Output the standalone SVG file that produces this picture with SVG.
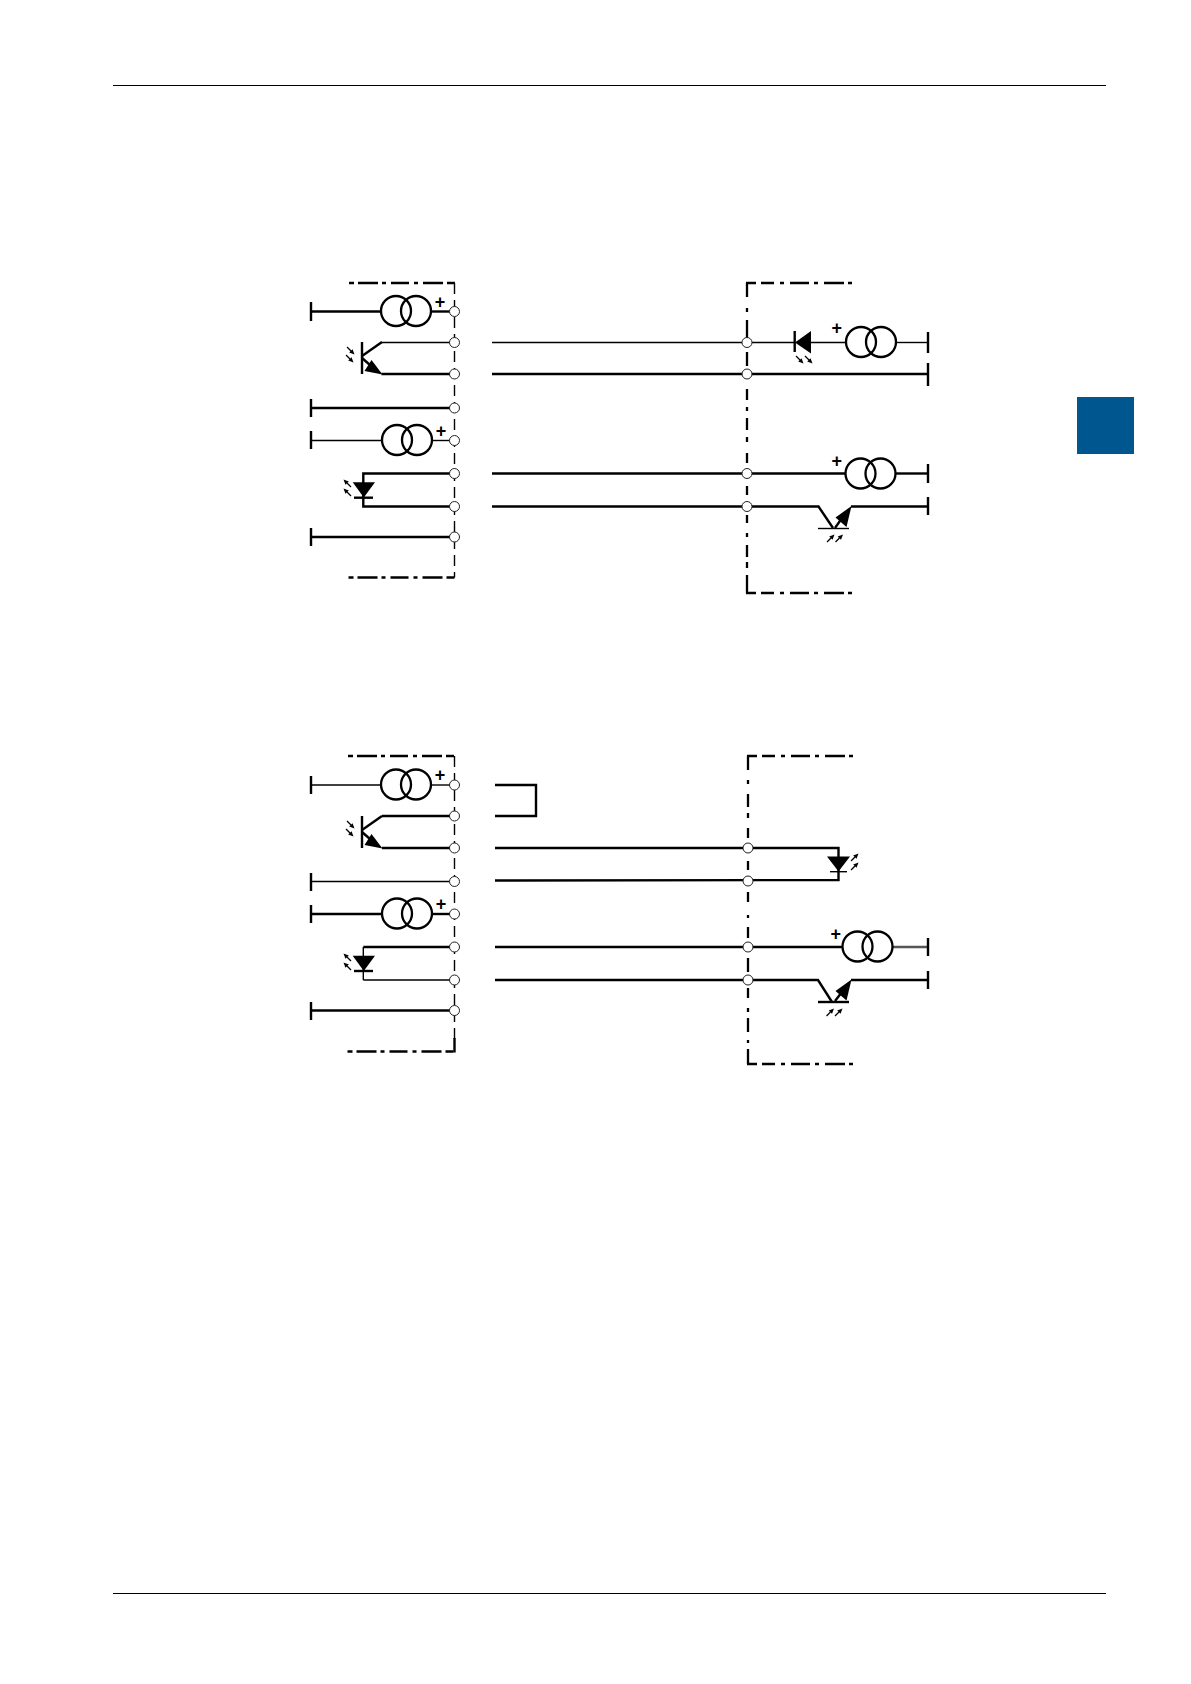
<svg xmlns="http://www.w3.org/2000/svg" width="1191" height="1684" viewBox="0 0 1191 1684">
<style>
line,polyline{fill:none;stroke:#000;stroke-linecap:butt}
.k{stroke-width:2.4}
.t{stroke-width:1.4}
.c{fill:none;stroke:#000;stroke-width:2.3}
.term{fill:#fff;stroke:#222;stroke-width:1}
.v{stroke-width:1.4;stroke-dasharray:11 6}
.dd{fill:none;stroke:#000;stroke-width:2.3}
.plus{font-family:"Liberation Sans",Arial,sans-serif;font-weight:bold;font-size:18px;text-anchor:middle}
</style>
<defs>
<g id="ray"><line x1="0" y1="0" x2="4" y2="4" stroke-width="1.2"/><polygon points="7.5,7.5 2.2,5.5 5.5,2.2" fill="#000"/></g>
<g id="src"><circle class="c" cx="-10" cy="0" r="15"/><circle class="c" cx="10" cy="0" r="15"/></g>
<circle id="tm" class="term" r="5"/>
<path id="hl" class="dd" d="M0 0H5M9 0H29M33 0H37M42 0H60M65 0H69M74 0H94M98 0H106"/>
<path id="hr" class="dd" d="M0 0H10M15 0H28M34 0H38M44 0H63M68 0H72M78 0H98M102 0H106"/>
</defs>
<rect id="tab" x="1077" y="397" width="57" height="57" fill="#00578f"/>
<line x1="113" y1="85.5" x2="1106" y2="85.5" stroke-width="1"/>
<line x1="113" y1="1593.5" x2="1106" y2="1593.5" stroke-width="1"/>

<g id="connectors">
<line class="k" x1="311" y1="311.5" x2="381" y2="311.5"/><line class="k" x1="431" y1="311.5" x2="450" y2="311.5"/>
<line class="t" x1="381.5" y1="342.5" x2="450" y2="342.5"/>
<line class="k" x1="381.5" y1="374" x2="450" y2="374"/>
<line class="k" x1="311" y1="408" x2="450" y2="408"/>
<line class="t" x1="311" y1="440.5" x2="382" y2="440.5"/><line class="t" x1="432" y1="440.5" x2="450" y2="440.5"/>
<polyline class="k" points="450,473.5 363.3,473.5 363.3,506.5 450,506.5"/>
<line class="k" x1="311" y1="537" x2="450" y2="537"/>

<line class="t" x1="492" y1="342.5" x2="795" y2="342.5"/>
<line class="t" x1="811" y1="342.5" x2="846" y2="342.5"/><line class="t" x1="896" y1="342.5" x2="928" y2="342.5"/>
<line class="k" x1="492" y1="374" x2="928" y2="374"/>
<line class="k" x1="492" y1="473.5" x2="845" y2="473.5"/><line class="k" x1="896" y1="473.5" x2="928" y2="473.5"/>
<polyline class="k" points="492,506.5 818.5,506.5 833,528"/>
<line class="k" x1="851" y1="506.5" x2="928" y2="506.5"/>

<line class="t" x1="311" y1="785" x2="381" y2="785"/><line class="t" x1="431" y1="785" x2="450" y2="785"/>
<line class="k" x1="382" y1="816" x2="450" y2="816"/>
<line class="k" x1="382" y1="848" x2="450" y2="848"/>
<line class="t" x1="311" y1="881.5" x2="450" y2="881.5"/>
<line class="k" x1="311" y1="914" x2="382" y2="914"/><line class="k" x1="432" y1="914" x2="450" y2="914"/>
<line class="k" x1="363.3" y1="947" x2="450" y2="947"/>
<line class="t" x1="363.3" y1="980" x2="450" y2="980"/>
<line class="t" x1="363.3" y1="947" x2="363.3" y2="980"/>
<line class="k" x1="311" y1="1010.5" x2="450" y2="1010.5"/>

<polyline class="k" points="495,785 536,785 536,816 495,816"/>
<polyline class="k" points="495,848 838.5,848 838.5,880 495,880.5"/>
<line class="k" x1="495" y1="947" x2="842" y2="947"/>
<line x1="892" y1="947" x2="928" y2="947" style="stroke:#555;stroke-width:2.4"/>
<polyline class="k" points="495,980 818,980 832,1002"/>
<line class="k" x1="851" y1="980" x2="928" y2="980"/>
</g>

<g id="frame-left-top"><line class="v" x1="454.5" y1="283" x2="454.5" y2="577.5"/><use href="#hl" x="349" y="283"/><use href="#hl" x="348.5" y="577.5"/></g>
<g id="frame-right-top"><use href="#hr" x="746" y="283"/><use href="#hr" x="746" y="593"/>
<path class="dd" d="M747 283V297M747 308V312M747 320V338M747 352V366M747 389V400M747 407V411M747 418V430M747 437V442M747 453V463M747 486V495M747 515V523M747 533V537M747 545V557M747 562V568M747 575V593"/></g>
<g id="frame-left-bottom"><line class="v" x1="454.5" y1="756" x2="454.5" y2="1040"/><line class="k" x1="454.5" y1="1038" x2="454.5" y2="1052.5"/><use href="#hl" x="348" y="756"/><use href="#hl" x="347.5" y="1051.5"/></g>
<g id="frame-right-bottom"><use href="#hr" x="747" y="756"/><use href="#hr" x="747" y="1064"/>
<path class="dd" d="M748 756V770M748 780V784M748 794V807M748 813V818M748 828V838M748 861V870M748 892V902M748 915V918M748 927V938M748 958V972M748 988V998M748 1008V1012M748 1018V1032M748 1040V1043M748 1049V1064"/></g>

<g id="terminals">
<use href="#tm" x="454.5" y="311.5"/><use href="#tm" x="454.5" y="342.5"/><use href="#tm" x="454.5" y="374"/><use href="#tm" x="454.5" y="408"/><use href="#tm" x="454.5" y="440.5"/><use href="#tm" x="454.5" y="473.5"/><use href="#tm" x="454.5" y="506.5"/><use href="#tm" x="454.5" y="537"/>
<use href="#tm" x="747" y="342.5"/><use href="#tm" x="747" y="374"/><use href="#tm" x="747" y="473.5"/><use href="#tm" x="747" y="506.5"/>
<use href="#tm" x="454.5" y="785"/><use href="#tm" x="454.5" y="816"/><use href="#tm" x="454.5" y="848"/><use href="#tm" x="454.5" y="881.5"/><use href="#tm" x="454.5" y="914"/><use href="#tm" x="454.5" y="947"/><use href="#tm" x="454.5" y="980"/><use href="#tm" x="454.5" y="1010.5"/>
<use href="#tm" x="748" y="848"/><use href="#tm" x="748" y="881"/><use href="#tm" x="748" y="947"/><use href="#tm" x="748" y="980"/>
</g>

<g id="grounds">
<line class="k" x1="311" y1="302" x2="311" y2="321"/><line class="k" x1="311" y1="399" x2="311" y2="417"/><line class="k" x1="311" y1="431" x2="311" y2="449"/><line class="k" x1="311" y1="528" x2="311" y2="546"/>
<line class="k" x1="928" y1="332" x2="928" y2="353"/><line class="k" x1="928" y1="363" x2="928" y2="386"/><line class="k" x1="928" y1="464" x2="928" y2="483"/><line class="k" x1="928" y1="497" x2="928" y2="515"/>
<line class="k" x1="311" y1="776" x2="311" y2="794"/><line class="k" x1="311" y1="873" x2="311" y2="891"/><line class="k" x1="311" y1="905" x2="311" y2="923"/><line class="k" x1="311" y1="1002" x2="311" y2="1020"/>
<line class="k" x1="928" y1="938" x2="928" y2="956"/><line class="k" x1="928" y1="971" x2="928" y2="989"/>
</g>

<g id="src-1"><use href="#src" x="406" y="311"/><text class="plus" x="440" y="308">+</text></g>
<g id="src-2"><use href="#src" x="407" y="440"/><text class="plus" x="441" y="437">+</text></g>
<g id="src-3"><use href="#src" x="871" y="342"/><text class="plus" x="836.7" y="334">+</text></g>
<g id="src-4"><use href="#src" x="870.5" y="473.5"/><text class="plus" x="836.7" y="467">+</text></g>
<g id="src-5"><use href="#src" x="406" y="784.5"/><text class="plus" x="440" y="781">+</text></g>
<g id="src-6"><use href="#src" x="407" y="913.5"/><text class="plus" x="441" y="910">+</text></g>
<g id="src-7"><use href="#src" x="867.5" y="946.5"/><text class="plus" x="835.7" y="940">+</text></g>

<g id="phototransistor-1">
<line class="k" x1="362" y1="342" x2="362" y2="374"/><polyline class="k" points="362,356 382,342"/><line class="k" x1="362" y1="358" x2="370" y2="365"/>
<polygon points="364.5,371 371.5,360 382.5,374.5"/>
<use href="#ray" x="347" y="347"/><use href="#ray" x="346" y="355"/>
</g>
<g id="phototransistor-2">
<line class="k" x1="362" y1="816" x2="362" y2="848"/><polyline class="k" points="362,830 382,816"/><line class="k" x1="362" y1="832" x2="370" y2="839"/>
<polygon points="364.5,845 371.5,834 382.5,848.5"/>
<use href="#ray" x="347" y="821"/><use href="#ray" x="346" y="829"/>
</g>
<g id="phototransistor-3">
<line class="t" x1="818" y1="528.5" x2="849" y2="528.5"/><line class="k" x1="835" y1="528" x2="842" y2="518"/>
<polygon points="851.5,506 835.5,517.5 846.5,527"/>
<use href="#ray" transform="translate(827 542) rotate(-90)"/><use href="#ray" transform="translate(835.5 542) rotate(-90)"/>
</g>
<g id="phototransistor-4">
<line class="k" x1="818" y1="1002" x2="849" y2="1002"/><line class="k" x1="835" y1="1001" x2="842" y2="992"/>
<polygon points="851.5,979.5 835.5,991 846.5,1000.5"/>
<use href="#ray" transform="translate(826.5 1016) rotate(-90)"/><use href="#ray" transform="translate(835 1016) rotate(-90)"/>
</g>
<g id="led-1">
<polygon points="352.7,482.3 375,482.3 363.8,497.5"/><line class="k" x1="354" y1="497.7" x2="373" y2="497.7"/>
<use href="#ray" transform="translate(351 487) rotate(180)"/><use href="#ray" transform="translate(351 496) rotate(180)"/>
</g>
<g id="led-2">
<polygon points="795,342.5 811,331 811,353.5"/><line class="k" x1="794.7" y1="331" x2="794.7" y2="352"/>
<use href="#ray" x="796" y="356"/><use href="#ray" x="805" y="356"/>
</g>
<g id="led-3">
<polygon points="352.7,955.7 375,955.7 363.8,971"/><line class="k" x1="354" y1="971" x2="373" y2="971"/>
<use href="#ray" transform="translate(351 961) rotate(180)"/><use href="#ray" transform="translate(351 970) rotate(180)"/>
</g>
<g id="led-4">
<polygon points="827,856.5 850,856.5 838.5,871.5"/><line class="t" x1="830" y1="871.7" x2="847" y2="871.7"/>
<use href="#ray" transform="translate(851 861) rotate(-90)"/><use href="#ray" transform="translate(851 870) rotate(-90)"/>
</g>
</svg>
